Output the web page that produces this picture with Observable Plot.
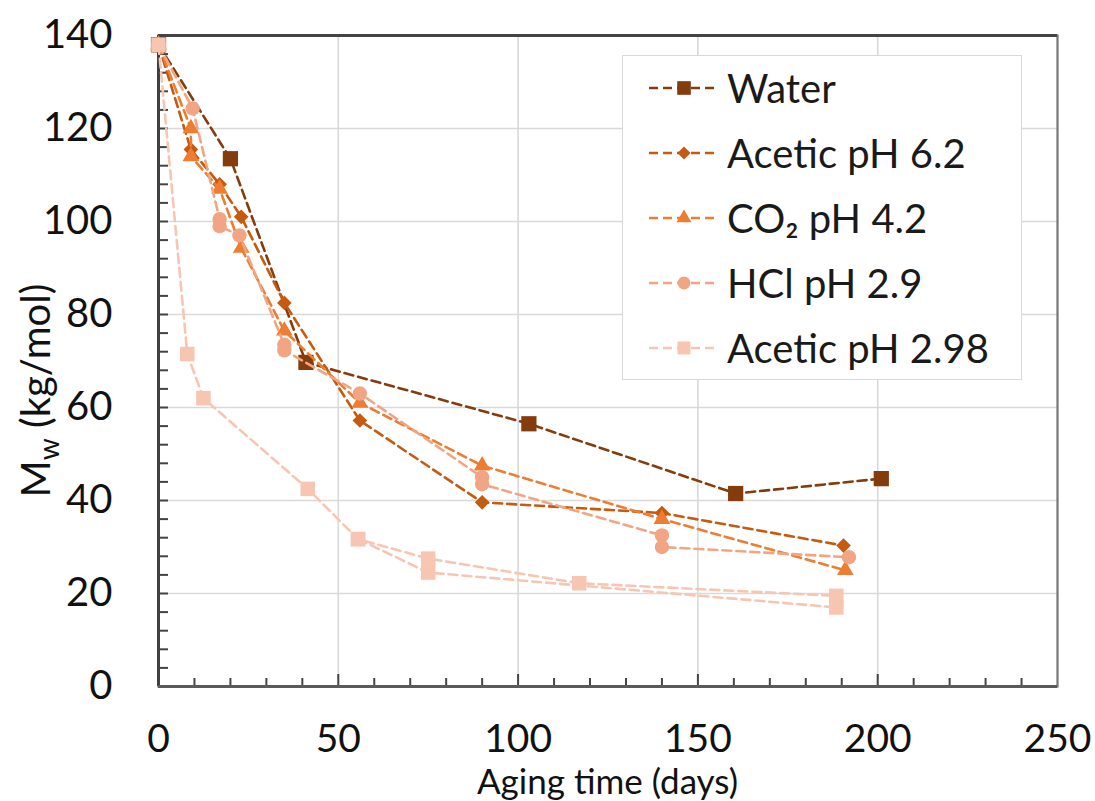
<!DOCTYPE html>
<html><head><meta charset="utf-8">
<script src="https://cdn.jsdelivr.net/npm/d3@7"></script>
<script src="https://cdn.jsdelivr.net/npm/@observablehq/plot@0.6"></script>
<style>
body{margin:0;background:#fff;font-family:Lato,"Noto Sans",sans-serif}
#wrap{position:relative;width:1095px;height:801px;overflow:hidden}
#legend{position:absolute;left:622px;top:55px;width:400px;height:325px;border:1.5px solid #d9d9d9;background:#fff;box-sizing:border-box}
.row{position:absolute;left:0;height:60px;display:flex;align-items:center;font-size:40px;color:#1a1a1a;white-space:nowrap}
.row svg{margin-left:26px;margin-right:8px}
</style></head><body><div id="wrap"></div>
<script>
const seriesNames = ["Water","Acetic pH 6.2","CO₂ pH 4.2","HCl pH 2.9","Acetic pH 2.98"];
const seriesColors = ["#843C0C","#C55A11","#ED7D31","#F1A584","#F7C6B2"];
const seriesSymbols = ["square","diamond2","triangle","circle","square"];
const seriesR = [8.6, 6.6, 6.2, 7.2, 8.2];

const waterDays = [0,20,41,103,160.5,201];
const waterMw   = [138,113.5,69.7,56.5,41.5,44.7];
const acetic62Days = [0,9,17,23,35,56,90,140,190.5];
const acetic62Mw   = [138,115.5,108,101,82.5,57.2,39.6,37.3,30.3];
const co2Days = [0,9,9,17,23,35,56,90,140,191];
const co2Mw   = [138,120,114,107,94.3,76.5,61,47.5,36,25];
const hclDays = [0,9.5,17,17,22.5,35,35,56,90,90,140,140,192];
const hclMw   = [138,124.3,100.5,99,97,73.5,72.3,63,45,43.5,32.5,30,27.8];
const acetic298Days = [0,8,12.5,41.5,55.5,75,117,188.5];
const acetic298Mw   = [138,71.5,62,42.5,31.7,27.5,22.2,19.5];
const acetic298bDays = [55.5,75,188.5];
const acetic298bMw   = [31.7,24.5,17];

const xLabels = [0,50,100,150,200,250];
const yLabels = [0,20,40,60,80,100,120,140];

const rows = [];
function add(si, days, mw, line){ days.forEach((d,i)=>rows.push({series:seriesNames[si], line, day:d, mw:mw[i]})); }
add(0, waterDays, waterMw, "w");
add(1, acetic62Days, acetic62Mw, "a62");
add(2, co2Days, co2Mw, "co2");
add(3, hclDays, hclMw, "hcl");
add(4, acetic298Days, acetic298Mw, "a298");
add(4, acetic298bDays, acetic298bMw, "a298b");

const seriesMarks = seriesNames.flatMap((name, i) => {
  const d = rows.filter(r => r.series === name);
  return [
    Plot.line(d, {x:"day", y:"mw", z:"line", stroke:seriesColors[i], strokeWidth:2.6, strokeDasharray:"9,5"}),
    Plot.dot(d, {x:"day", y:"mw", symbol:()=>seriesSymbols[i], fill:seriesColors[i], r:seriesR[i]})
  ];
});

const plot = Plot.plot({
  width:1095, height:801, marginLeft:158, marginRight:38, marginTop:35, marginBottom:115,
  style:{fontFamily:"Lato, 'Noto Sans', sans-serif", fontSize:"40px", color:"#111", background:"#fff", overflow:"visible"},
  x:{domain:[0,250], label:null},
  y:{domain:[0,140], label:null},
  symbol:{domain:seriesSymbols, range:seriesSymbols},
  marks:[
    Plot.gridX([50,100,150,200], {stroke:"#d9d9d9", strokeOpacity:1, strokeWidth:1.6}),
    Plot.gridY([20,40,60,80,100,120], {stroke:"#d9d9d9", strokeOpacity:1, strokeWidth:1.6}),
    Plot.frame({stroke:"#777", strokeWidth:2.2}),
    Plot.ruleY([140], {stroke:"#444", strokeWidth:3}),
    Plot.axisX(d3.range(10,250,10).filter(v=>v%50), {tickSize:-8, tickFormat:()=>"", stroke:"#444", strokeWidth:2, label:null}),
    Plot.axisX([50,100,150,200], {tickSize:-12, tickFormat:()=>"", stroke:"#444", strokeWidth:2, label:null}),
    Plot.axisY(d3.range(4,140,4), {tickSize:-10, tickFormat:()=>"", stroke:"#444", strokeWidth:2, label:null}),
    Plot.axisX(xLabels, {tickSize:0, tickPadding:38, fontSize:39, fill:"#111", label:null}),
    Plot.axisY(yLabels, {tickSize:0, tickPadding:46, fontSize:40, fill:"#111", label:null}),
    Plot.ruleX([0], {stroke:"#404040", strokeWidth:3}),
    Plot.ruleY([0], {stroke:"#5a5a5a", strokeWidth:3}),
    ...seriesMarks
  ]
});

const wrap = document.getElementById("wrap");
wrap.appendChild(plot);

// axis titles
const svg = d3.select(plot);
const xs = plot.scale("x"), ys = plot.scale("y");
svg.append("text")
  .attr("x", (xs.range[0]+xs.range[1])/2).attr("y", 794)
  .attr("text-anchor","middle").attr("font-size",35).attr("fill","#111")
  .text("Aging time (days)");
const yt = svg.append("text")
  .attr("transform", `translate(50,${(ys.range[0]+ys.range[1])/2 + 30}) rotate(-90)`)
  .attr("text-anchor","middle").attr("font-size",40).attr("fill","#111");
yt.append("tspan").text("M");
yt.append("tspan").attr("font-size",28).attr("dy",9).text("w");
yt.append("tspan").attr("dy",-9).text(" (kg/mol)");

// legend
const legend = d3.select(wrap).append("div").attr("id","legend");
seriesNames.forEach((name,i)=>{
  const row = legend.append("div").attr("class","row").style("top", (2 + i*65) + "px");
  const s = row.append("svg").attr("width",70).attr("height",30);
  s.append("line").attr("x1",0).attr("x2",70).attr("y1",15).attr("y2",15)
    .attr("stroke",seriesColors[i]).attr("stroke-width",2.6).attr("stroke-dasharray","9,5");
  const sym = {square:d3.symbolSquare, diamond2:d3.symbolDiamond2, triangle:d3.symbolTriangle, circle:d3.symbolCircle}[seriesSymbols[i]];
  s.append("path").attr("transform","translate(35,15)")
    .attr("d", d3.symbol(sym, Math.PI*seriesR[i]*seriesR[i]*0.8)())
    .attr("fill",seriesColors[i]);
  row.append("span").text(name);
});
</script></body></html>
